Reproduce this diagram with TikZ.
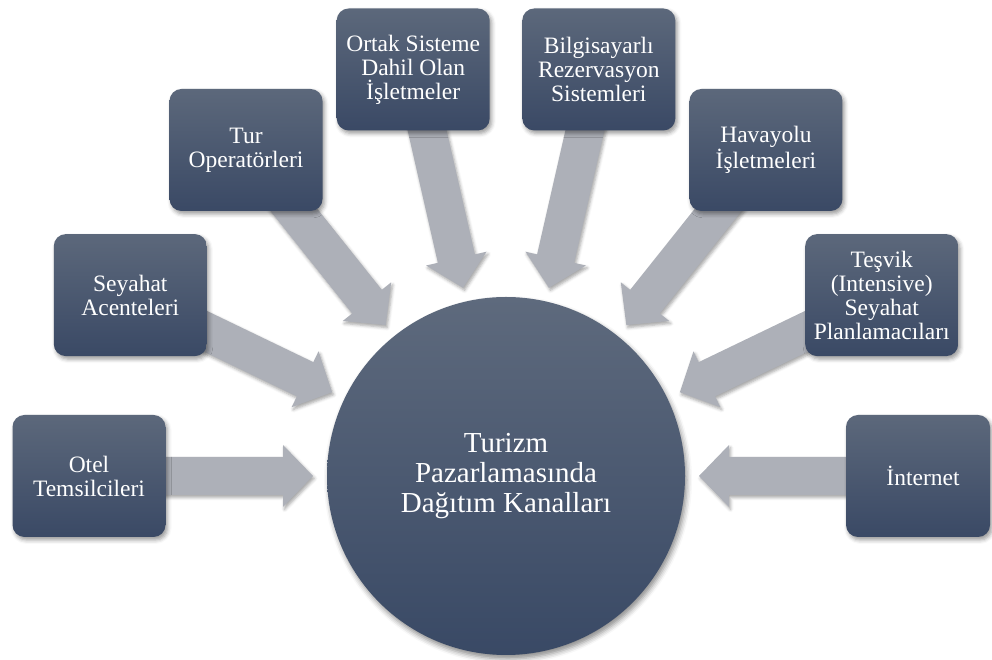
\documentclass[tikz,border=0pt]{standalone}
\usepackage{fontspec}
\setmainfont{Liberation Serif}
\usetikzlibrary{calc,shadows.blur}

\pgfdeclarelayer{bg}
\pgfsetlayers{bg,main}

\definecolor{boxtop}{RGB}{92,104,123}
\definecolor{boxbot}{RGB}{58,73,101}
\definecolor{hubtop}{RGB}{94,106,125}
\definecolor{hubbot}{RGB}{57,73,101}
\definecolor{arrowgray}{RGB}{173,176,184}

\tikzset{
  chan/.style={rounded corners=12pt, minimum width=153pt, minimum height=122pt,
    inner sep=2pt, top color=boxtop, bottom color=boxbot, text=white,
    align=center, font=\fontsize{23.5}{24}\selectfont,
    blur shadow={shadow xshift=2pt, shadow yshift=-3pt,
      shadow blur radius=4pt, shadow opacity=40}},
  hubstyle/.style={circle, minimum size=358pt, inner sep=0pt,
    top color=hubtop, bottom color=hubbot, text=white, align=center,
    font=\fontsize{29}{30}\selectfont,
    blur shadow={shadow xshift=2pt, shadow yshift=-4pt,
      shadow blur radius=5pt, shadow opacity=45}},
  arrowbody/.style={fill=arrowgray,
    blur shadow={shadow xshift=1.5pt, shadow yshift=-2.5pt,
      shadow blur radius=3pt, shadow opacity=35}}
}

% block arrow pointing from a channel box to the hub
\newcommand\chanarrow[1]{%
  \fill[arrowbody]
    ($(hub.center)!193pt!(#1.center)$)
    -- ($(hub.center)!223pt!(#1.center)!31pt!90:(hub.center)$)
    -- ($(hub.center)!223pt!(#1.center)!19pt!90:(hub.center)$)
    -- ($(hub.center)!362pt!(#1.center)!19pt!90:(hub.center)$)
    -- ($(hub.center)!362pt!(#1.center)!19pt!-90:(hub.center)$)
    -- ($(hub.center)!223pt!(#1.center)!19pt!-90:(hub.center)$)
    -- ($(hub.center)!223pt!(#1.center)!31pt!-90:(hub.center)$)
    -- cycle;}

\begin{document}
\begin{tikzpicture}[x=1pt,y=1pt]
  \useasboundingbox (0,0) rectangle (992,660);

  \node[hubstyle] (hub) at (506,184)
    {Turizm\\Pazarlamasında\\Dağıtım Kanalları};

  \node[chan] (otel)  at ($(hub.center)+(180:417)$)    {Otel\\Temsilcileri};
  \node[chan] (seyah) at ($(hub.center)+(154.29:417)$) {Seyahat\\Acenteleri};
  \node[chan] (tur)   at ($(hub.center)+(128.57:417)$) {Tur\\Operatörleri};
  \node[chan] (ortak) at ($(hub.center)+(102.86:417)$) {Ortak Sisteme\\Dahil Olan\\İşletmeler};
  \node[chan] (bilg)  at ($(hub.center)+(77.14:417)$)  {Bilgisayarlı\\Rezervasyon\\Sistemleri};
  \node[chan] (hava)  at ($(hub.center)+(51.43:417)$)  {Havayolu\\İşletmeleri};
  \node[chan] (tesv)  at ($(hub.center)+(25.71:417)$)  {Teşvik\\(Intensive)\\Seyahat\\Planlamacıları};
  \node[chan, minimum width=144pt] (inet) at (918,184) {\hspace*{10pt}İnternet};

  \begin{pgfonlayer}{bg}
    \chanarrow{otel}
    \chanarrow{seyah}
    \chanarrow{tur}
    \chanarrow{ortak}
    \chanarrow{bilg}
    \chanarrow{hava}
    \chanarrow{tesv}
    \chanarrow{inet}
  \end{pgfonlayer}
\end{tikzpicture}
\end{document}
